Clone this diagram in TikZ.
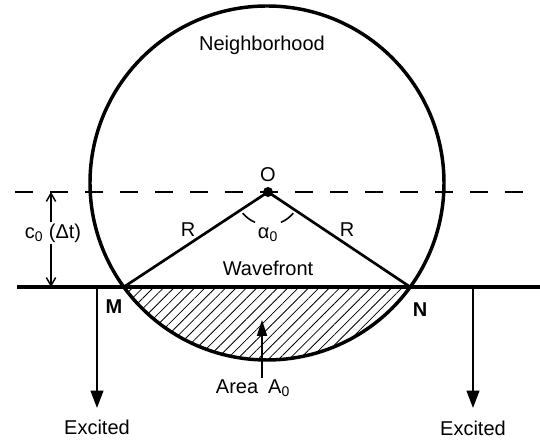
\documentclass[tikz,border=0pt]{standalone}
\usepackage{fontspec}
\setmainfont{Liberation Sans}
\usepackage{tikz}
\usetikzlibrary{arrows.meta,patterns.meta}

\begin{document}
\begin{tikzpicture}[x=0.75pt,y=0.75pt,
        lbl/.style={font=\fontsize{15}{18}\selectfont,inner sep=1pt},
        bold/.style={font=\fontsize{15}{18}\selectfont\bfseries,inner sep=1pt},
        fat/.style={line width=2.6pt},
        exarrow/.style={line width=1.5pt,-{Triangle[length=13pt,width=9.5pt]}},
        dimarrow/.style={line width=1.1pt,-{Straight Barb[length=6pt,width=7pt]}}]
        \useasboundingbox (0,0) rectangle (540,441);
        % points
        \coordinate (C) at (267,258);
        \coordinate (O) at (268,249);
        \coordinate (M) at (123.8,154);
        \coordinate (N) at (410.2,154);
        \coordinate (wl) at (17,154);
        \coordinate (wr) at (540,154);
        \coordinate (dl) at (15,249);
        \coordinate (dr) at (540,249);
        % hatched area under the wavefront
        \fill[pattern={Lines[angle=45,distance=5.5pt,line width=.6pt]}] (M) arc[start angle=216,end angle=324,radius=177] -- cycle;
        \draw[fat] (C) circle[radius=177];
        \draw[line width=1.6pt,dash pattern=on 13.5pt off 12.75pt] (dl) -- (dr);
        \draw[line width=2.3pt] (wl) -- (wr);
        \draw[line width=2pt] (M) -- (O) -- (N);
        \fill (O) circle[radius=5];
        \draw[line width=1.2pt] (O) ++(220:33) arc[start angle=220,end angle=247,radius=33];
        \draw[line width=1.2pt] (O) ++(293:33) arc[start angle=293,end angle=320,radius=33];
        % labels
        \node[lbl] (nbh) at (262,396) {Neighborhood};
        \node[lbl] (olbl) at (268,266) {O};
        \node[lbl] (rl) at (188,211) {R};
        \node[lbl] (rr) at (347,211) {R};
        \node[lbl] (alpha) at (268,206) {α\textsubscript{0}};
        \node[lbl] (wave) at (268,173) {Wavefront};
        \node[bold] (mlbl) at (114,134) {M};
        \node[bold] (nlbl) at (420,131) {N};
        % c0 (dt)
        \node[lbl] (dim) at (53,208) {c\textsubscript{0} (Δt)};
        \coordinate (dimtop) at (51,249);
        \coordinate (dimbot) at (51,154);
        \draw[dimarrow] (dim.north -| dimtop) -- (dimtop);
        \draw[dimarrow] (dim.south -| dimbot) -- (dimbot);
        % area
        \node[lbl] (area) at (253,53) {Area\enspace A\textsubscript{0}};
        \coordinate (areatip) at (262,121);
        \draw[line width=1.4pt,-{Triangle[length=12pt,width=7.5pt]}] (area.north -| areatip) -- (areatip);
        % excited
        \coordinate (exl) at (97,154);
        \coordinate (exr) at (473,154);
        \coordinate (exltip) at (97,33);
        \coordinate (exrtip) at (473,33);
        \node[lbl] (excl) at (97,14) {Excited};
        \node[lbl] (excr) at (473,13) {Excited};
        \draw[exarrow] (exl) -- (exltip);
        \draw[exarrow] (exr) -- (exrtip);
\end{tikzpicture}
\end{document}
